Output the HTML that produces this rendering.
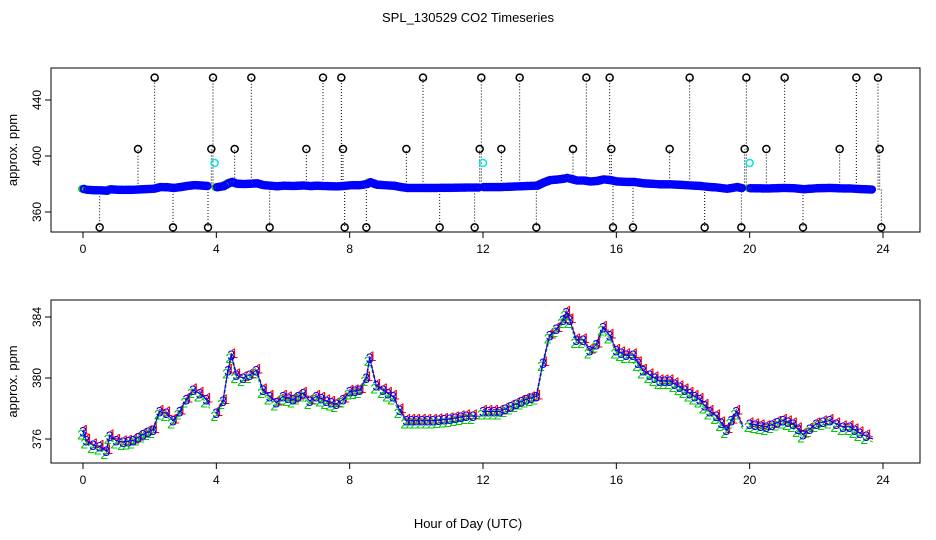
<!DOCTYPE html>
<html><head><meta charset="utf-8"><style>
body{margin:0;background:#fff}
svg{display:block;font-family:"Liberation Sans",sans-serif}
</style></head><body>
<svg id="c" width="936" height="540" xmlns="http://www.w3.org/2000/svg">
<text x="468" y="22" text-anchor="middle" font-size="13">SPL_130529  CO2 Timeseries</text>
<text x="468" y="528" text-anchor="middle" font-size="13">Hour of Day (UTC)</text>
<g id="topg"></g><g id="botg"></g>
</svg>
<script>
const hours=[0,0.1,0.3,0.5,0.7,0.8,1.0,1.2,1.5,1.8,2.1,2.3,2.5,2.7,2.9,3.1,3.3,3.5,3.7,3.8,null,4.0,4.2,4.35,4.45,4.6,4.8,5.0,5.2,5.4,5.6,5.8,6.0,6.3,6.6,6.8,7.0,7.3,7.6,7.8,8.0,8.3,8.5,8.6,8.8,9.0,9.3,9.5,9.7,10,10.5,11,11.5,11.9,null,12.0,12.5,13.0,13.3,13.6,13.8,14.0,14.2,14.4,14.5,14.6,14.8,15.0,15.2,15.4,15.6,15.8,16.0,16.3,16.5,16.8,17.0,17.3,17.6,17.9,18.2,18.5,18.8,19.0,19.3,19.6,19.8,null,20.0,20.5,21.0,21.3,21.6,22.0,22.4,22.8,23.0,23.3,23.7];
const co2=[376.5,375.9,375.6,375.5,375.2,376.2,375.9,375.8,375.9,376.3,376.6,377.8,377.7,377.2,377.8,378.6,379.2,379.0,378.6,378.2,null,377.7,378.5,380.5,381.5,380.2,380.0,380.2,380.5,379.2,378.8,378.4,378.8,378.6,379.0,378.5,378.8,378.5,378.3,378.6,379.1,379.2,380.0,381.3,379.5,379.2,378.8,377.9,377.2,377.2,377.2,377.3,377.5,377.5,null,377.8,377.8,378.3,378.6,378.8,381.0,382.8,383.2,383.8,384.3,383.8,382.5,382.5,381.8,382.2,383.3,382.8,381.8,381.5,381.5,380.5,380.2,379.8,379.8,379.4,379.0,378.6,377.8,377.5,376.6,377.8,376.8,null,377.0,376.8,377.2,377.0,376.3,377.0,377.2,376.8,376.8,376.4,376.0];
const outHighHours=[2.15,3.9,5.05,7.2,7.75,10.2,11.95,13.1,15.1,15.8,18.2,19.9,21.05,23.2,23.85];
const outMidHours=[1.65,3.85,4.55,6.7,7.8,9.7,11.9,12.55,14.7,15.85,17.6,19.85,20.5,22.7,23.9];
const outLowHours=[0.5,2.7,3.75,5.6,7.85,8.5,10.7,11.75,13.6,15.9,16.5,18.65,19.75,21.6,23.95];
const outHigh=456, outMid=405, outLow=349;
const cyanHours=[3.95,12.0,20.0]; const cyanVal=395;
const xTicks=[0,4,8,12,16,20,24];
const topYTicks=[360,400,440];
const botYTicks=[376,380,384];

const NS="http://www.w3.org/2000/svg";
function mk(p,t,a){const e=document.createElementNS(NS,t);for(const k in a)e.setAttribute(k,a[k]);p.appendChild(e);return e;}
const xs=h=>83+h*800/24;
const yT=v=>212-(v-360)*1.4;
const yB=v=>378-(v-380)*15.25;
const gTop=document.getElementById('topg'),gBot=document.getElementById('botg');

function axes(g,y0,y1,ys,yt,name){
  const b=mk(g,'rect',{x:51,y:y0,width:869,height:y1-y0,fill:'none',stroke:'#000'});
  
  mk(g,'line',{x1:xs(0),x2:xs(24),y1:y1,y2:y1,stroke:'#000'});
  xTicks.forEach(t=>{mk(g,'line',{x1:xs(t),x2:xs(t),y1:y1,y2:y1+6,stroke:'#000'});
    const tx=mk(g,'text',{x:xs(t),y:y1+21,'text-anchor':'middle','font-size':12});tx.textContent=t;
    });
  yt.forEach(t=>{const y=ys(t);mk(g,'line',{x1:45,x2:51,y1:y,y2:y,stroke:'#000'});
    const tx=mk(g,'text',{x:0,y:0,'text-anchor':'middle','font-size':12,transform:`translate(41,${y}) rotate(-90)`});tx.textContent=t;
    });
  const yl=mk(g,'text',{x:0,y:0,'text-anchor':'middle','font-size':13,transform:`translate(17,${(y0+y1)/2}) rotate(-90)`});yl.textContent='approx. ppm';
  
}
axes(gTop,68,232,yT,topYTicks,'top');
axes(gBot,300,463,yB,botYTicks,'bottom');

function baseAt(h){let best=378,d=1e9;hours.forEach((x,i)=>{if(x!==null&&Math.abs(x-h)<d){d=Math.abs(x-h);best=co2[i];}});return best;}
[[outHighHours,outHigh],[outMidHours,outMid],[outLowHours,outLow]].forEach(([hs,v])=>{
  hs.forEach(h=>{
    mk(gTop,'line',{x1:xs(h),x2:xs(h),y1:yT(baseAt(h)),y2:yT(v),stroke:'#000','stroke-dasharray':'1,2'});
    const c=mk(gTop,'circle',{cx:xs(h),cy:yT(v),r:3.5,fill:'none',stroke:'#000','stroke-width':1.5});
    
  });
});
cyanHours.forEach(h=>{const c=mk(gTop,'circle',{cx:xs(h),cy:yT(cyanVal),r:3.5,fill:'none',stroke:'#00e5e5','stroke-width':1.5});
  });
for(let i=0;i<hours.length-1;i++){if(hours[i]===null||hours[i+1]===null)continue;
  const n=Math.max(1,Math.round((hours[i+1]-hours[i])*20));
  for(let k=0;k<n;k++){const f=k/n,h=hours[i]+f*(hours[i+1]-hours[i]),v=co2[i]+f*(co2[i+1]-co2[i]);
    const c=mk(gTop,'circle',{cx:xs(h)-1,cy:yT(v),r:3.2,fill:'none',stroke:k%2==0?'#00cc00':'#ff0000','stroke-width':1.4});
    }}
for(let i=0;i<hours.length-1;i++){if(hours[i]===null||hours[i+1]===null)continue;
  const n=Math.max(1,Math.round((hours[i+1]-hours[i])*14));
  for(let k=0;k<n;k++){const f=k/n,h=hours[i]+f*(hours[i+1]-hours[i]),v=co2[i]+f*(co2[i+1]-co2[i]);
    const d=mk(gTop,'circle',{cx:xs(h)+1,cy:yT(v),r:3.3,fill:'none',stroke:'#0000ff','stroke-width':2});
    }}
const offs=[[0,'#ff0000','1',-2,3],[0,'#00cc00','2',3,-2],[0,'#0000ff','3',0,0]];
offs.forEach(([dh,col,lab,dy,dx])=>{
  let d='';hours.forEach((h,i)=>{if(h===null){d+=' ';return;}const p=`${xs(h)},${yB(co2[i])+dy}`;d+=(d===''||d.endsWith(' ')?'M':'L')+p;});
  const pl=mk(gBot,'path',{d:d,fill:'none',stroke:col,'stroke-width':1,'stroke-dasharray':lab==='3'?'none':'3,2'});
  
  for(let i=0;i<hours.length-1;i++){if(hours[i]===null||hours[i+1]===null)continue;
    const n=Math.max(1,Math.round((hours[i+1]-hours[i])*6));
    for(let k=0;k<n;k++){const f=k/n,h=hours[i]+f*(hours[i+1]-hours[i]),v=co2[i]+f*(co2[i+1]-co2[i]);
      const t=mk(gBot,'text',{x:xs(h)+dx,y:yB(v)+5+dy,'text-anchor':'middle','font-size':14,fill:col});
      t.textContent=lab;}}
});
</script>
</body></html>
